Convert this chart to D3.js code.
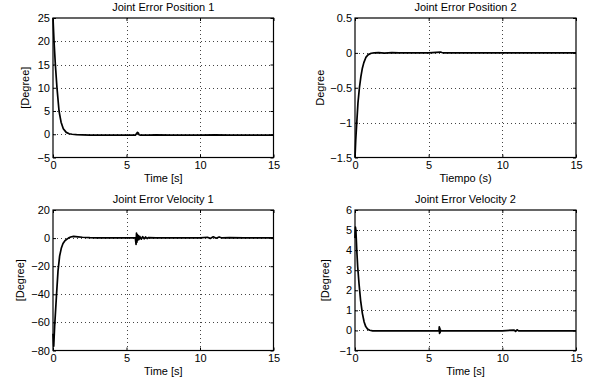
<!DOCTYPE html>
<html>
<head>
<meta charset="utf-8">
<script src="https://cdn.jsdelivr.net/npm/d3@7"></script>
<style>
html,body{margin:0;padding:0;background:#fff;}
svg{display:block;}
text{font-family:"Liberation Sans",Arial,Helvetica,sans-serif;fill:#000;}
</style>
</head>
<body>
<svg id="chart" width="593" height="380"></svg>
<script>
// ---- Data ----
const xTicks = [0, 5, 10, 15];

const pos1Ticks = [-5, 0, 5, 10, 15, 20, 25];
const pos1T = [0,0.07,0.16,0.27,0.41,0.55,0.7,0.9,1.1,1.3,1.6,2.0,2.5,3,4,5,5.6,5.75,5.8,5.85,5.95,6.5,7,8,9,10,11,12,13,14,15];
const pos1V = [25,20,15,10,5,2.6,1.2,0.4,0.1,0,-0.1,-0.15,-0.2,-0.2,-0.2,-0.2,-0.2,0.4,0.3,-0.1,-0.2,-0.2,-0.15,-0.2,-0.2,-0.2,-0.15,-0.2,-0.2,-0.2,-0.2];

const pos2Ticks = [-1.5, -1, -0.5, 0, 0.5];
const pos2T = [0,0.05,0.12,0.2,0.3,0.4,0.5,0.6,0.75,0.9,1.1,1.3,1.6,2,2.5,3,4,5,5.8,5.9,6,7,8,10,12,15];
const pos2V = [-1.5,-1.25,-1.0,-0.72,-0.5,-0.34,-0.22,-0.14,-0.06,-0.025,-0.005,0,0.003,-0.004,0.003,0,0,0,0.012,0.005,0,0,0,0,0,0];

const vel1Ticks = [-80, -60, -40, -20, 0, 20];
const vel1T = [0,0.05,0.11,0.23,0.34,0.45,0.57,0.68,0.8,0.91,1.05,1.2,1.4,1.7,2.0,2.5,3,4,5,5.6,5.65,5.68,5.71,5.74,5.77,5.8,5.85,5.9,6.0,6.1,6.2,6.3,6.4,6.5,7,8,9,10,10.5,10.7,10.9,11.1,11.3,11.5,12,13,14,15];
const vel1V = [-68,-77,-63,-42,-23.5,-12.8,-7,-3.8,-2,-1,0,0.8,1.2,0.9,0.6,0.3,0.2,0.2,0.2,0.2,-4.5,3.5,-3,2.5,-1.5,1.8,-1,1.2,-0.8,1,-0.5,0.8,-0.3,0.4,0.2,0.2,0.2,0.2,0.6,-0.2,0.9,-0.1,0.8,0.1,0.3,0.2,0.2,0.2];

const vel2Ticks = [-1, 0, 1, 2, 3, 4, 5, 6];
const vel2T = [0,0.03,0.06,0.12,0.18,0.27,0.38,0.5,0.62,0.73,0.85,1.0,1.2,1.5,2,3,4,5,5.7,5.72,5.74,5.76,5.78,5.8,5.85,6,7,8,9,10,10.8,10.9,11,11.1,12,13,14,15];
const vel2V = [4.6,5.15,5.0,4.0,3.2,2.35,1.5,0.85,0.42,0.19,0.07,0.01,-0.02,-0.02,-0.02,-0.02,-0.02,-0.02,-0.02,0.18,-0.15,0.12,-0.1,0.02,-0.02,-0.02,-0.02,-0.02,-0.02,-0.02,0.02,-0.05,0.03,-0.02,-0.02,-0.02,-0.02,-0.02];

const titles = ["Joint Error Position 1", "Joint Error Position 2", "Joint Error Velocity 1", "Joint Error Velocity 2"];
const xLabels = ["Time [s]", "Tiempo (s)", "Time [s]", "Time [s]"];
const yLabels = ["[Degree]", "Degree", "[Degree]", "[Degree]"];

// ---- Layout ----
const panels = [
  {x0:53, x1:273.5, y0:18, y1:157.5, ylx:25, t:pos1T, v:pos1V, ticks:pos1Ticks},
  {x0:355, x1:576, y0:18, y1:157.5, ylx:320, t:pos2T, v:pos2V, ticks:pos2Ticks},
  {x0:53, x1:273.5, y0:210, y1:350.5, ylx:20, t:vel1T, v:vel1V, ticks:vel1Ticks},
  {x0:355, x1:576, y0:210, y1:350.5, ylx:325, t:vel2T, v:vel2V, ticks:vel2Ticks}
];

const fmt = d => (d < 0 ? "\u2212" + Math.abs(d) : String(d));
const svg = d3.select("#chart");

panels.forEach((p, i) => {
  const g = svg.append("g");
  const ticks = p.ticks;
  const x = d3.scaleLinear().domain([0, 15]).range([p.x0, p.x1]);
  const y = d3.scaleLinear().domain([ticks[0], ticks[ticks.length - 1]]).range([p.y1, p.y0]);

  // grid (dotted)
  const grid = g.append("g").attr("stroke", "#444").attr("stroke-width", 1)
    .attr("stroke-dasharray", "1,3").attr("fill", "none");
  xTicks.slice(1, -1).forEach(d => {
    grid.append("line").attr("x1", Math.round(x(d)) + 0.5).attr("x2", Math.round(x(d)) + 0.5)
      .attr("y1", p.y0).attr("y2", p.y1);
  });
  ticks.slice(1, -1).forEach(d => {
    grid.append("line").attr("y1", Math.round(y(d)) + 0.5).attr("y2", Math.round(y(d)) + 0.5)
      .attr("x1", p.x0).attr("x2", p.x1);
  });

  // data line
  const pts = p.t.map((t, k) => [t, p.v[k]]);
  g.append("path").datum(pts)
    .attr("fill", "none").attr("stroke", "#000").attr("stroke-width", 1.7)
    .attr("stroke-linejoin", "round")
    .attr("d", d3.line().x(d => x(d[0])).y(d => y(d[1])));

  // axes (inward ticks)
  const xa = g.append("g").attr("transform", `translate(0,${p.y1})`)
    .call(d3.axisBottom(x).tickValues(xTicks).tickFormat(fmt).tickSizeInner(-3).tickSizeOuter(0).tickPadding(4));
  const ya = g.append("g").attr("transform", `translate(${p.x0},0)`)
    .call(d3.axisLeft(y).tickValues(ticks).tickFormat(fmt).tickSizeInner(-3).tickSizeOuter(0).tickPadding(3));
  g.append("g").attr("transform", `translate(0,${p.y0})`)
    .call(d3.axisTop(x).tickValues(xTicks).tickFormat("").tickSizeInner(-3).tickSizeOuter(0));
  g.append("g").attr("transform", `translate(${p.x1},0)`)
    .call(d3.axisRight(y).tickValues(ticks).tickFormat("").tickSizeInner(-3).tickSizeOuter(0));
  g.selectAll(".domain").remove();
  g.selectAll(".tick line").attr("stroke", "#000");
  [xa, ya].forEach(a => a.selectAll("text").attr("font-size", 11)
    .attr("font-family", "'Liberation Sans',Arial,sans-serif").attr("fill", "#000"));
  xa.selectAll("text").attr("dy", "0.71em");

  // frame
  g.append("rect").attr("x", p.x0).attr("y", p.y0)
    .attr("width", p.x1 - p.x0).attr("height", p.y1 - p.y0)
    .attr("fill", "none").attr("stroke", "#000").attr("stroke-width", 1.2);

  // title & labels
  const cx = (p.x0 + p.x1) / 2;
  g.append("text").attr("x", cx).attr("y", p.y0 - 7).attr("text-anchor", "middle")
    .attr("font-size", 11).text(titles[i]);
  g.append("text").attr("x", cx).attr("y", p.y1 + 24).attr("text-anchor", "middle")
    .attr("font-size", 11).text(xLabels[i]);
  g.append("text").attr("transform", `translate(${p.ylx},${(p.y0 + p.y1) / 2}) rotate(-90)`)
    .attr("text-anchor", "middle").attr("dy", "0.35em").attr("font-size", 11).text(yLabels[i]);
});
</script>
</body>
</html>
